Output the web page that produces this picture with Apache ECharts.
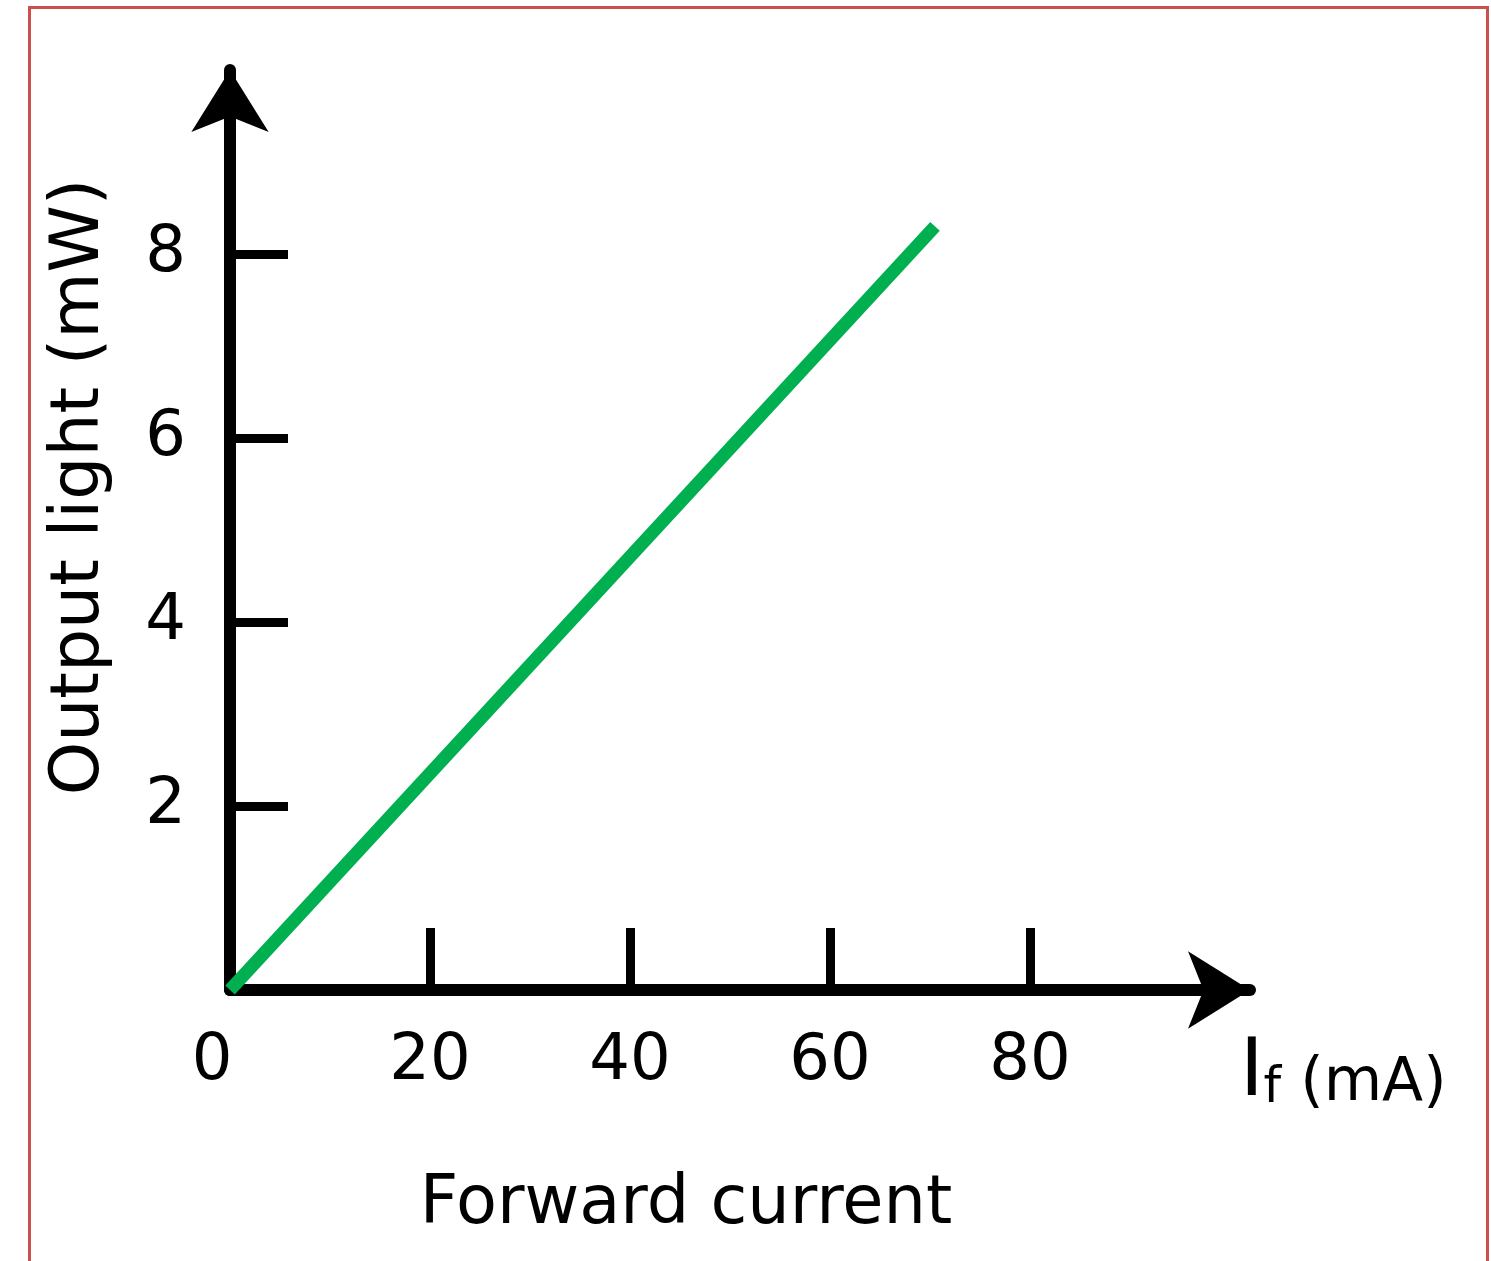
<!DOCTYPE html>
<html>
<head>
<meta charset="utf-8">
<script src="https://cdn.jsdelivr.net/npm/echarts@6/dist/echarts.min.js"></script>
<style>
html,body{margin:0;padding:0;background:#fff;}
#chart{width:1491px;height:1261px;}
</style>
</head>
<body>
<div id="chart"></div>
<script>
// Data
const currentMA = [0, 70.5];        // forward current If (mA)
const outputMW = [0, 8.3];          // output light (mW)
const xTickValues = [20, 40, 60, 80];
const xLabelValues = [0, 20, 40, 60, 80];
const yTickValues = [2, 4, 6, 8];
const xAxisTitle = 'Forward current';
const yAxisTitle = 'Output light (mW)';

const FONT = 'DejaVu Sans';
const chart = echarts.init(document.getElementById('chart'));
const lineData = currentMA.map((x, i) => [x, outputMW[i]]);

chart.setOption({
  backgroundColor: '#ffffff',
  animation: false,
  grid: { left: 230, right: 241, top: 70, bottom: 271, containLabel: false, outerBoundsMode: 'none' },
  xAxis: [{
    type: 'value', min: 0, max: 102, interval: 20,
    axisLine: { show: true, lineStyle: { color: '#000', width: 12 },
      symbol: ['none', 'arrow'], symbolSize: [58, 62], symbolOffset: [0, 0] },
    axisTick: { show: true, inside: true, length: 62, customValues: xTickValues,
      lineStyle: { color: '#000', width: 9 } },
    axisLabel: { show: true, customValues: xLabelValues, margin: 40,
      fontFamily: FONT, fontSize: 64, color: '#000',
      formatter: v => v === 0 ? '{z|0}' : String(v),
      rich: { z: { fontFamily: FONT, fontSize: 64, color: '#000', padding: [0, 36, 0, 0] } } },
    splitLine: { show: false },
    name: '{I|I}{f|f}{u| (mA)}',
    nameLocation: 'end', nameGap: -10,
    nameTextStyle: {
      verticalAlign: 'top', align: 'left', padding: [44, 0, 0, 0],
      rich: {
        I: { fontFamily: FONT, fontSize: 80, color: '#000', verticalAlign: 'bottom' },
        f: { fontFamily: FONT, fontSize: 50, color: '#000', verticalAlign: 'bottom' },
        u: { fontFamily: FONT, fontSize: 60, color: '#000', verticalAlign: 'bottom' }
      }
    }
  }, {
    type: 'value', min: 0, max: 102, position: 'bottom',
    axisLine: { show: false }, axisTick: { show: false }, axisLabel: { show: false },
    splitLine: { show: false },
    name: xAxisTitle, nameLocation: 'middle', nameGap: 182,
    nameTextStyle: { fontFamily: FONT, fontSize: 67, color: '#000', padding: [0, 108, 0, 0] }
  }],
  yAxis: {
    type: 'value', min: 0, max: 10, interval: 2,
    axisLine: { show: true, lineStyle: { color: '#000', width: 12 },
      symbol: ['none', 'arrow'], symbolSize: [58, 62] },
    axisTick: { show: true, inside: true, length: 58, customValues: yTickValues,
      lineStyle: { color: '#000', width: 9 } },
    axisLabel: { show: true, customValues: yTickValues, margin: 44,
      fontFamily: FONT, fontSize: 64, color: '#000' },
    splitLine: { show: false },
    name: yAxisTitle, nameLocation: 'middle', nameGap: 116,
    nameTextStyle: { fontFamily: FONT, fontSize: 68, color: '#000', padding: [0, 0, 0, 86] }
  },
  series: [{
    type: 'line', xAxisIndex: 0, data: lineData, showSymbol: false,
    lineStyle: { color: '#00B050', width: 13, cap: 'butt' }, z: 1
  }],
  graphic: [{
    type: 'polyline', silent: true, z: -10,
    shape: { points: [[29.5, 1270], [29.5, 7.5], [1487.5, 7.5], [1487.5, 1270]] },
    style: { fill: null, stroke: '#C9504F', lineWidth: 3 }
  }]
});
</script>
</body>
</html>
